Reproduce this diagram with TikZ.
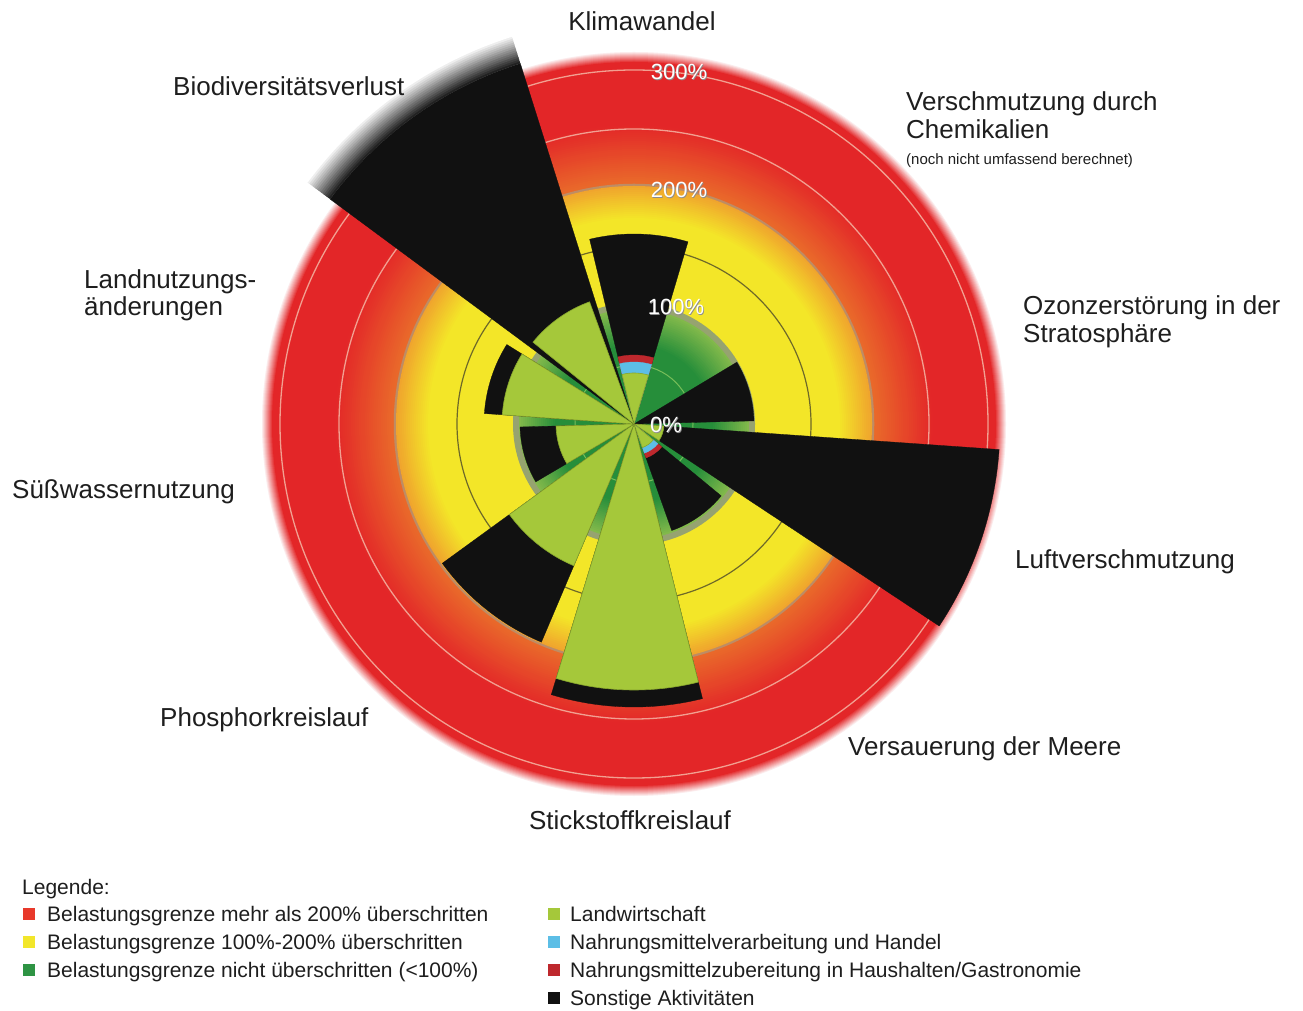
\documentclass[tikz,border=0pt]{standalone}
\usepackage{fontspec}
\setmainfont{Liberation Sans}
\definecolor{redc}{RGB}{227,38,40}
\definecolor{orangec}{RGB}{233,105,42}
\definecolor{yellowc}{RGB}{243,230,40}
\definecolor{yorange}{RGB}{240,165,45}
\definecolor{dgreen}{RGB}{38,142,58}
\definecolor{lgreenbg}{RGB}{130,185,75}
\definecolor{ringc}{RGB}{150,163,112}
\definecolor{agri}{RGB}{165,200,58}
\definecolor{agrid}{RGB}{135,165,45}
\definecolor{procb}{RGB}{92,190,230}
\definecolor{prepr}{RGB}{190,40,45}
\definecolor{othk}{RGB}{17,17,17}
\definecolor{txt}{RGB}{30,30,30}
\definecolor{legred}{RGB}{232,57,43}
\definecolor{legyel}{RGB}{242,230,42}
\definecolor{leggrn}{RGB}{46,148,68}
\definecolor{line177}{RGB}{110,105,40}
\definecolor{linered}{RGB}{242,160,145}
\definecolor{ring237}{RGB}{190,140,100}
\definecolor{line59}{RGB}{120,190,90}
\newcommand{\pbband}[5]{\fill[#5] ({90-(#1)}:#3) arc[start angle={90-(#1)}, end angle={90-(#2)}, radius=#3] -- ({90-(#2)}:#4) arc[start angle={90-(#2)}, end angle={90-(#1)}, radius=#4] -- cycle;}
\newcommand{\pbwedge}[4]{\filldraw[#4] (0,0) -- ({90-(#1)}:#3) arc[start angle={90-(#1)}, end angle={90-(#2)}, radius=#3] -- cycle;}
\tikzset{
  lbl/.style={anchor=base west, inner sep=0pt, text=txt, font=\fontsize{26}{29}\selectfont},
  legtxt/.style={anchor=base west, inner sep=0pt, text=txt, font=\fontsize{21}{24}\selectfont},
  pct/.style={anchor=base, inner sep=0pt, text=white, font=\fontsize{22}{24}\selectfont},
  pctsh/.style={anchor=base, inner sep=0pt, text=black!45, font=\fontsize{22}{24}\selectfont},
  blk/.style={othk, draw=othk, line width=0.3pt},
  ag/.style={agri, draw=agrid, line width=0.6pt},
  pb/.style={procb, draw=procb, line width=0.3pt},
  pr/.style={prepr, draw=prepr, line width=0.3pt}
}
\begin{document}
\begin{tikzpicture}[x=1pt,y=1pt]
\useasboundingbox (0,0) rectangle (1303,1010);
\fill[white] (0,0) rectangle (1303,1010);
\begin{scope}[shift={(634,586)}]
  % outer glow
  \foreach \i in {0,...,11}{
    \pgfmathtruncatemacro\p{\i*100/11}
    \fill[redc!\p!white] (0,0) circle ({373-\i});
  }
  % red annulus
  \foreach \r in {361,359,...,241}{
    \pgfmathtruncatemacro\p{max(0,min(100,(\r-242)*100/58))}
    \fill[redc!\p!orangec] (0,0) circle (\r);
  }
  \draw[linered, line width=1.3pt] (0,0) circle (354);
  \draw[linered, line width=1.3pt] (0,0) circle (295);
  \draw[ring237, line width=2.5pt] (0,0) circle (239);
  % yellow annulus
  \foreach \r in {238,236,...,206}{
    \pgfmathtruncatemacro\p{max(0,min(100,(\r-206)*100/32))}
    \fill[yorange!\p!yellowc] (0,0) circle (\r);
  }
  \fill[yellowc] (0,0) circle (205);
  \draw[line177, line width=1.2pt] (0,0) circle (177);
  % green disc
  \fill[ringc] (0,0) circle (121);
  \foreach \r in {115,113,...,79}{
    \pgfmathtruncatemacro\p{max(0,min(100,(\r-79)*100/36))}
    \fill[lgreenbg!\p!dgreen] (0,0) circle (\r);
  }
  \fill[dgreen] (0,0) circle (78);
  \draw[line59, line width=1pt] (0,0) circle (59);
  % Klimawandel
  \pbwedge{-13.5}{16.5}{190}{blk}
  \pbwedge{-13.5}{16.5}{69}{pr}
  \pbwedge{-13.5}{16.5}{62}{pb}
  \pbwedge{-13.5}{16.5}{51}{ag}
  % Ozonzerstoerung
  \pbwedge{59}{88.5}{120}{blk}
  % Luftverschmutzung
  \pbwedge{94}{123.5}{366}{blk}
  \pbwedge{94}{123.5}{30}{ag}
  % Versauerung
  \pbwedge{129.5}{160.5}{113}{blk}
  \pbwedge{129.5}{160.5}{36}{pr}
  \pbwedge{129.5}{160.5}{31}{pb}
  \pbwedge{129.5}{160.5}{25}{ag}
  % Stickstoff
  \pbwedge{166}{197}{283}{blk}
  \pbwedge{166}{197}{266}{ag}
  % Phosphor
  \pbwedge{203}{234}{237}{blk}
  \pbwedge{203}{234}{154}{ag}
  % Suesswasser
  \pbwedge{239.5}{268.5}{114}{blk}
  \pbwedge{239.5}{268.5}{78}{ag}
  % Landnutzung
  \pbwedge{274}{302}{150}{blk}
  \pbwedge{274}{302}{132}{ag}
  % Biodiversitaet
  \pbwedge{306.5}{342.5}{378}{blk}
  \foreach \i in {1,...,15}{
    \pgfmathtruncatemacro\p{100-\i*6.6}
    \pbband{306.5}{342.5}{376+2*\i}{378.6+2*\i}{othk!\p!white}
  }
  \pbwedge{309}{340}{130}{ag}
\end{scope}
% percentage labels
\node[pctsh] (p300s) at (679.8,929.7) {300\%};
\node[pct] (p300) at (679,930.5) {300\%};
\node[pctsh] (p200s) at (679.8,811.2) {200\%};
\node[pct] (p200) at (679,812) {200\%};
\node[pctsh] (p100s) at (676.8,694.2) {100\%};
\node[pct] (p100) at (676,695) {100\%};
\node[pctsh] (p0s) at (666.8,576.2) {0\%};
\node[pct] (p0) at (666,577) {0\%};
% boundary labels
\node[lbl, anchor=base] (klima) at (642,979) {Klimawandel};
\node[lbl] (bio) at (173,914) {Biodiversitätsverlust};
\node[lbl] (chem1) at (906,899) {Verschmutzung durch};
\node[lbl] (chem2) at (906,871) {Chemikalien};
\node[anchor=base west, inner sep=0pt, text=txt, font=\fontsize{15}{17}\selectfont] (chem3) at (906,845) {(noch nicht umfassend berechnet)};
\node[lbl] (ozon1) at (1023,695) {Ozonzerstörung in der};
\node[lbl] (ozon2) at (1023,667) {Stratosphäre};
\node[lbl] (land1) at (84,721) {Landnutzungs-};
\node[lbl] (land2) at (84,694) {änderungen};
\node[lbl] (wasser) at (12,511) {Süßwassernutzung};
\node[lbl] (luft) at (1015,441) {Luftverschmutzung};
\node[lbl] (phos) at (160,284) {Phosphorkreislauf};
\node[lbl] (meer) at (848,255) {Versauerung der Meere};
\node[lbl, anchor=base] (stick) at (630,181) {Stickstoffkreislauf};
% legend
\node[legtxt] (leg) at (22,116) {Legende:};
\fill[legred] (23,90) rectangle (35,102);
\node[legtxt] (l1) at (47,88.5) {Belastungsgrenze mehr als 200\% überschritten};
\fill[legyel] (23,62) rectangle (35,74);
\node[legtxt] (l2) at (47,60.5) {Belastungsgrenze 100\%-200\% überschritten};
\fill[leggrn] (23,34) rectangle (35,46);
\node[legtxt] (l3) at (47,32.5) {Belastungsgrenze nicht überschritten (<100\%)};
\fill[agri] (548,90) rectangle (560,102);
\node[legtxt] (r1) at (570,88.5) {Landwirtschaft};
\fill[procb] (548,62) rectangle (560,74);
\node[legtxt] (r2) at (570,60.5) {Nahrungsmittelverarbeitung und Handel};
\fill[prepr] (548,34) rectangle (560,46);
\node[legtxt] (r3) at (570,32.5) {Nahrungsmittelzubereitung in Haushalten/Gastronomie};
\fill[othk] (548,6) rectangle (560,18);
\node[legtxt] (r4) at (570,4.5) {Sonstige Aktivitäten};
\end{tikzpicture}
\end{document}
